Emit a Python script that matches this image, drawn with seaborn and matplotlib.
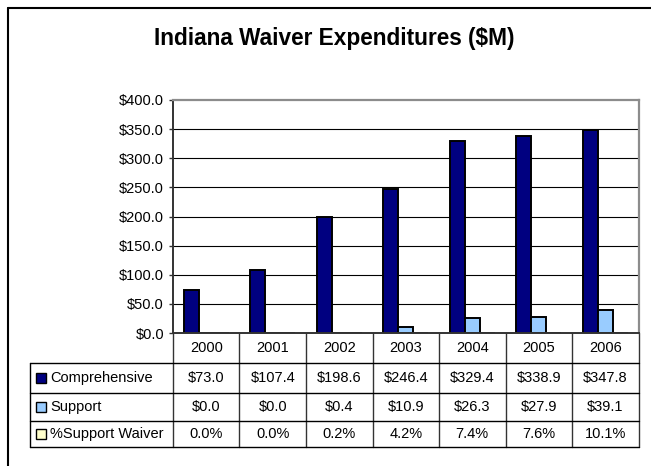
import matplotlib
matplotlib.use("Agg")
import matplotlib.pyplot as plt
import matplotlib.transforms as mtransforms
from matplotlib.patches import Rectangle
from matplotlib.lines import Line2D
import seaborn as sns
import pandas as pd

# ---- data -------------------------------------------------------------
years = ["2000", "2001", "2002", "2003", "2004", "2005", "2006"]
comprehensive = [73.0, 107.4, 198.6, 246.4, 329.4, 338.9, 347.8]
support = [0.0, 0.0, 0.4, 10.9, 26.3, 27.9, 39.1]
pct_support = [0.0, 0.0, 0.2, 4.2, 7.4, 7.6, 10.1]
series_names = ["Comprehensive", "Support", "%Support Waiver"]
series_colors = ["#000080", "#99CCFF", "#FFFFCC"]
y_ticks = [0, 50, 100, 150, 200, 250, 300, 350, 400]
title = "Indiana Waiver Expenditures ($M)"

# ---- style ------------------------------------------------------------
sns.set_theme(style="white")
plt.rcParams["font.family"] = ["Liberation Sans", "DejaVu Sans"]
FS = 10.5

W, H = 651, 466
fig = plt.figure(figsize=(W / 100, H / 100), dpi=100)
fig.patch.set_facecolor("white")


def fx(px):
    return px / W


def fy(py):
    return 1 - py / H


ax = fig.add_axes([fx(173), fy(333), fx(638.5) - fx(173), fy(100) - fy(333)])

# the percentage series is stored as a fraction, so it sits at the baseline
df = pd.DataFrame({
    "year": years * 3,
    "series": [series_names[0]] * len(years)
    + [series_names[1]] * len(years)
    + [series_names[2]] * len(years),
    "value": comprehensive + support + [p / 100 for p in pct_support],
})

sns.barplot(
    data=df, x="year", y="value", hue="series", hue_order=series_names,
    palette=series_colors, saturation=1, width=0.675, gap=0,
    edgecolor="black", linewidth=1.4, legend=False, ax=ax, zorder=2,
)

ax.set_xlim(-0.5, len(years) - 0.5)
ax.set_ylim(0, 400)
ax.set_yticks(y_ticks)
ax.set_yticklabels([f"${v:.1f}" for v in y_ticks], fontsize=FS)
ax.set_xticks([])
ax.set_xlabel("")
ax.set_ylabel("")
ax.tick_params(axis="y", left=True, length=3, width=1, color="#333333",
               pad=3.5, labelcolor="black")

for v in y_ticks[1:-1]:
    ax.axhline(v, color="black", lw=0.8, zorder=0.5)

for side in ("top", "right"):
    ax.spines[side].set_color("#8c8c8c")
    ax.spines[side].set_linewidth(1.6)
for side in ("left", "bottom"):
    ax.spines[side].set_color("#333333")
    ax.spines[side].set_linewidth(1.4)

# ---- data table under the axis ---------------------------------------
blend = mtransforms.blended_transform_factory(ax.transData, fig.transFigure)
row_edges = [333, 363, 393, 421, 447]
label_left = 30
n = len(years)

# vertical separators between year columns
for i in range(n + 1):
    ax.plot([i - 0.5, i - 0.5], [fy(row_edges[0]), fy(row_edges[-1])],
            transform=blend, color="#333333", lw=1.0, clip_on=False)
# left edge of the label column
fig.add_artist(Line2D([fx(label_left), fx(label_left)],
                      [fy(row_edges[1]), fy(row_edges[-1])],
                      color="black", lw=1.0))
# horizontal rules
for yy in row_edges[1:]:
    fig.add_artist(Line2D([fx(label_left), fx(638.5)], [fy(yy), fy(yy)],
                          color="black", lw=1.0))

# header row of years
hdr_y = fy((row_edges[0] + row_edges[1]) / 2)
for i, yr in enumerate(years):
    ax.text(i, hdr_y, yr, transform=blend, ha="center", va="center",
            fontsize=FS, color="black")

row_values = [
    [f"${v:.1f}" for v in comprehensive],
    [f"${v:.1f}" for v in support],
    [f"{v:.1f}%" for v in pct_support],
]
for r, (name, color, vals) in enumerate(zip(series_names, series_colors, row_values)):
    cy = (row_edges[r + 1] + row_edges[r + 2]) / 2
    fig.add_artist(Rectangle((fx(36), fy(cy + 5)), fx(10), fy(cy - 5) - fy(cy + 5),
                             facecolor=color, edgecolor="black", lw=1.0,
                             transform=fig.transFigure))
    fig.text(fx(50), fy(cy), name, ha="left", va="center", fontsize=FS,
             color="black")
    for i, s in enumerate(vals):
        ax.text(i, fy(cy), s, transform=blend, ha="center", va="center",
                fontsize=FS, color="black")

# ---- title and outer frame -------------------------------------------
fig.text(fx(334), fy(39), title, ha="center", va="center", fontsize=16.3,
         fontweight="bold", color="black")

fig.add_artist(Line2D([fx(8), fx(8)], [fy(7.5), -0.05], color="black", lw=1.5))
fig.add_artist(Line2D([fx(8), 1.05], [fy(7.5), fy(7.5)], color="black", lw=1.5))

fig.savefig("out.png", dpi=100, facecolor="white")
